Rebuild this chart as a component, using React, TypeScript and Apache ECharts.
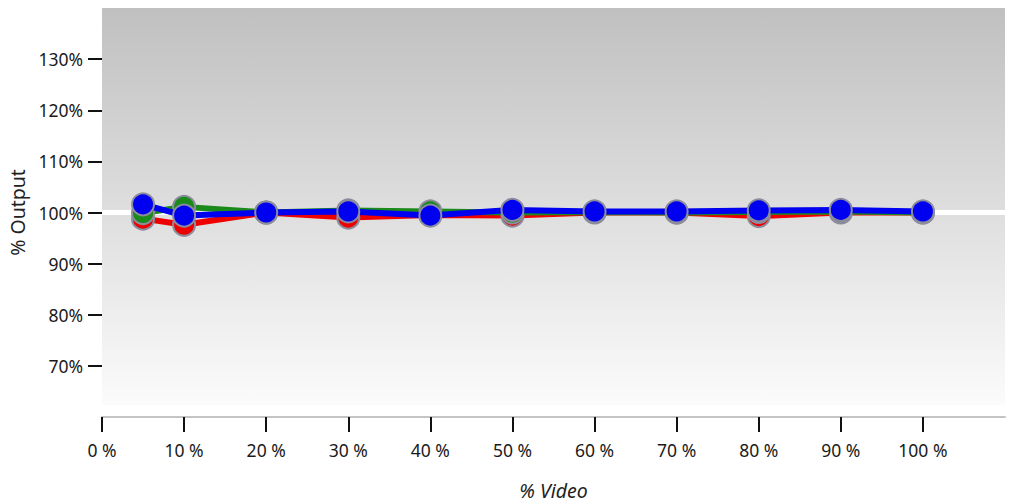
import React, { useEffect, useRef } from "react";
import * as echarts from "echarts";

const videoPct = [5, 10, 20, 30, 40, 50, 60, 70, 80, 90, 100];
const redValues = [98.8, 97.6, 100.0, 99.0, 99.5, 99.4, 100.0, 100.0, 99.3, 100.0, 100.0];
const greenValues = [99.9, 101.1, 100.0, 100.4, 100.2, 100.0, 100.1, 100.0, 100.1, 100.2, 100.0];
const blueValues = [101.6, 99.4, 100.0, 100.2, 99.4, 100.5, 100.2, 100.2, 100.4, 100.5, 100.2];
const xTicks = [0, 10, 20, 30, 40, 50, 60, 70, 80, 90, 100];
const yTicks = [70, 80, 90, 100, 110, 120, 130];

const FONT = "'Noto Sans', 'Open Sans', sans-serif";

function mkSeries(name: string, color: string, values: number[], z: number) {
  return {
    name,
    type: "line",
    data: videoPct.map((x, i) => [x, values[i]]),
    symbol: "circle",
    symbolSize: 22,
    z,
    lineStyle: { color, width: 6 },
    itemStyle: { color, borderColor: "#8c8c9c", borderWidth: 2 },
    emphasis: { disabled: true },
  };
}

export default function App() {
  const ref = useRef<HTMLDivElement>(null);
  useEffect(() => {
    if (!ref.current) return;
    const chart = echarts.init(ref.current, null, { renderer: "svg" });
    const series: any[] = [
      {
        ...mkSeries("Red", "#ee0000", redValues, 3),
        markLine: {
          silent: true,
          symbol: "none",
          label: { show: false },
          lineStyle: { color: "#ffffff", width: 5, type: "solid" },
          data: [{ yAxis: 100 }],
          z: 1,
        },
      },
      mkSeries("Green", "#1a8a1a", greenValues, 4),
      mkSeries("Blue", "#0000f0", blueValues, 5),
    ];
    chart.setOption({
      animation: false,
      backgroundColor: "#ffffff",
      graphic: [
        {
          type: "rect",
          z: -10,
          silent: true,
          shape: { x: 102, y: 8, width: 903, height: 397 },
          style: {
            fill: new echarts.graphic.LinearGradient(0, 0, 0, 1, [
              { offset: 0, color: "#c0c0c0" },
              { offset: 1, color: "#fbfbfb" },
            ]),
          },
        },
      ],
      grid: { left: 102, right: 19, top: 8, bottom: 87, containLabel: false, outerBoundsMode: "none" },
      xAxis: {
        type: "value",
        min: 0,
        max: 110,
        interval: 10,
        name: "% Video",
        nameLocation: "middle",
        nameGap: 63,
        nameTextStyle: { fontFamily: FONT, fontSize: 19.5, fontStyle: "italic", color: "#222" },
        axisLine: { show: true, onZero: false, lineStyle: { color: "#c4c4c4", width: 2 } },
        axisTick: { show: true, length: 15, lineStyle: { color: "#111", width: 2 }, customValues: xTicks },
        axisLabel: {
          margin: 24,
          fontFamily: FONT,
          fontSize: 17.5,
          color: "#1a1a1a",
          customValues: xTicks,
          formatter: (v: number) => `${v} %`,
        },
        splitLine: { show: false },
      },
      yAxis: {
        type: "value",
        min: 60,
        max: 140,
        interval: 10,
        name: "% Output",
        nameLocation: "middle",
        nameGap: 74,
        nameTextStyle: { fontFamily: FONT, fontSize: 19.5, color: "#222" },
        axisLine: { show: false },
        axisTick: { show: true, length: 14, lineStyle: { color: "#111", width: 2 }, customValues: yTicks },
        axisLabel: {
          margin: 19,
          fontFamily: FONT,
          fontSize: 17.5,
          color: "#1a1a1a",
          customValues: yTicks,
          formatter: (v: number) => `${v}%`,
        },
        splitLine: { show: false },
      },
      series,
    });
    return () => chart.dispose();
  }, []);
  return (
    <div
      ref={ref}
      style={{ position: "fixed", left: 0, top: 0, width: 1024, height: 504 }}
    />
  );
}
